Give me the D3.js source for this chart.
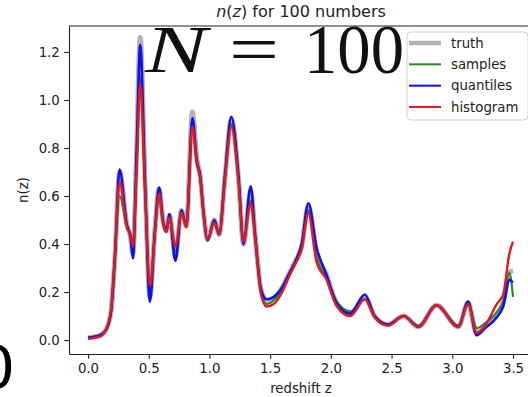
<!DOCTYPE html>
<html>
<head>
<meta charset="utf-8">
<script src="https://cdn.jsdelivr.net/npm/d3@7"></script>
<style>
  body { margin: 0; background: #fff; }
  svg { display: block; overflow: hidden; font-family: "DejaVu Sans", sans-serif; }
</style>
</head>
<body>
<svg id="chart" width="528" height="397"></svg>
<script>
// redshift grid
var zs = [0.00,0.10,0.15,0.19,0.22,0.26,0.32,0.35,0.37,0.40,0.43,0.47,0.51,0.55,0.585,0.62,0.645,0.67,0.72,0.77,
          0.81,0.86,0.895,0.925,0.95,0.985,1.04,1.08,1.13,1.18,1.24,1.28,1.34,1.375,1.425,1.47,1.53,1.60,1.66,1.71,
          1.76,1.815,1.88,1.965,2.05,2.16,2.28,2.36,2.47,2.60,2.72,2.87,3.05,3.13,3.20,3.27,3.37,3.42,3.47,3.50];

var truth = [0.010,0.020,0.045,0.120,0.330,0.700,0.480,0.430,0.360,0.790,1.260,0.660,0.180,0.450,0.630,0.490,0.455,0.520,0.350,0.540,
             0.475,0.950,0.760,0.680,0.540,0.420,0.500,0.440,0.690,0.920,0.670,0.400,0.620,0.445,0.210,0.165,0.175,0.220,0.280,0.330,
             0.390,0.560,0.370,0.270,0.150,0.110,0.180,0.100,0.065,0.100,0.055,0.145,0.055,0.155,0.030,0.055,0.110,0.160,0.280,0.290];

var samples = [0.010,0.020,0.040,0.120,0.330,0.600,0.470,0.440,0.400,0.720,1.100,0.630,0.210,0.440,0.600,0.480,0.470,0.500,0.370,0.530,
               0.470,0.900,0.740,0.670,0.530,0.420,0.490,0.440,0.680,0.900,0.660,0.410,0.580,0.430,0.200,0.150,0.165,0.210,0.275,0.325,
               0.385,0.540,0.350,0.260,0.160,0.120,0.170,0.100,0.065,0.100,0.060,0.145,0.060,0.150,0.050,0.070,0.118,0.160,0.280,0.180];

var quantiles = [0.010,0.020,0.045,0.120,0.330,0.710,0.480,0.430,0.340,0.780,1.230,0.650,0.160,0.450,0.635,0.490,0.450,0.525,0.330,0.540,
                 0.475,0.925,0.750,0.680,0.540,0.415,0.500,0.440,0.700,0.930,0.680,0.400,0.640,0.445,0.210,0.170,0.180,0.220,0.280,0.330,
                 0.400,0.570,0.390,0.270,0.150,0.110,0.190,0.100,0.065,0.100,0.055,0.145,0.055,0.160,0.020,0.050,0.097,0.140,0.250,0.240];

var histogram = [0.005,0.015,0.045,0.130,0.340,0.660,0.470,0.440,0.390,0.700,1.070,0.620,0.225,0.440,0.610,0.480,0.450,0.510,0.390,0.530,
                 0.470,0.890,0.740,0.670,0.530,0.420,0.490,0.440,0.680,0.890,0.660,0.410,0.570,0.430,0.190,0.140,0.150,0.200,0.270,0.320,
                 0.380,0.530,0.330,0.250,0.140,0.100,0.170,0.095,0.060,0.100,0.055,0.145,0.055,0.150,0.030,0.060,0.153,0.190,0.360,0.410];

var xTicks = [0.0,0.5,1.0,1.5,2.0,2.5,3.0,3.5];
var yTicks = [0.0,0.2,0.4,0.6,0.8,1.0,1.2];

var series = [
  {name: "truth",     values: truth,     color: "#999999", width: 5,   opacity: 0.75},
  {name: "samples",   values: samples,   color: "#2a8a2a", width: 2.2, opacity: 1},
  {name: "quantiles", values: quantiles, color: "#1010ee", width: 2.6, opacity: 1},
  {name: "histogram", values: histogram, color: "#e3191c", width: 2.4, opacity: 1}
];

var svg = d3.select("#chart"),
    padL = 69, padR = 540, padT = 26, padB = 354;

var x = d3.scaleLinear().domain([-0.1565, 3.5 + (padR - 513) / 121.43]).range([padL, padR]);
var y = d3.scaleLinear().domain([-0.058, 1.308]).range([padB, padT]);

// big stray labels behind the axes
svg.append("text").attr("x", 15).attr("y", 388).attr("text-anchor", "end")
  .style("font-size", "59px").style("fill", "#000").text("0");

var big = svg.append("g").style("font-family", "'Liberation Serif', serif").style("fill", "#111");
big.append("text").attr("x", 145).attr("y", 72).style("font-size", "68px").style("font-style", "italic")
  .attr("textLength", 62).attr("lengthAdjust", "spacingAndGlyphs").text("N");
big.append("text").attr("x", 229).attr("y", 72).style("font-size", "68px")
  .attr("textLength", 50).attr("lengthAdjust", "spacingAndGlyphs").text("=");
big.append("text").attr("x", 304).attr("y", 73).style("font-size", "70px")
  .attr("textLength", 100).attr("lengthAdjust", "spacingAndGlyphs").text("100");

var line = d3.line()
  .x(function(d, i) { return x(zs[i]); })
  .y(function(d) { return y(d); })
  .curve(d3.curveMonotoneX);

svg.append("g").selectAll("path").data(series).enter().append("path")
  .attr("d", function(s) { return line(s.values); })
  .attr("fill", "none")
  .attr("stroke", function(s) { return s.color; })
  .attr("stroke-width", function(s) { return s.width; })
  .attr("stroke-opacity", function(s) { return s.opacity; })
  .attr("stroke-linejoin", "round");

// axes
var xAxis = svg.append("g").attr("transform", "translate(0," + padB + ")")
  .call(d3.axisBottom(x).tickValues(xTicks).tickFormat(d3.format(".1f"))
    .tickSize(4.7).tickSizeOuter(0).tickPadding(4.5));
var yAxis = svg.append("g").attr("transform", "translate(" + padL + ",0)")
  .call(d3.axisLeft(y).tickValues(yTicks).tickFormat(d3.format(".1f"))
    .tickSize(4.7).tickSizeOuter(0).tickPadding(4.5));
[xAxis, yAxis].forEach(function(a) {
  a.selectAll("path, line").attr("stroke", "#222").attr("stroke-width", 1.1);
  a.selectAll("text").style("font-size", "13.3px").style("fill", "#222")
    .style("font-family", "'DejaVu Sans', sans-serif");
});
svg.append("line").attr("x1", padL).attr("x2", padR).attr("y1", padT).attr("y2", padT)
  .attr("stroke", "#222").attr("stroke-width", 1.1);

// labels
var title = svg.append("text").attr("x", 301).attr("y", 17).attr("text-anchor", "middle")
  .style("font-size", "16px").style("fill", "#222");
title.append("tspan").style("font-style", "italic").text("n");
title.append("tspan").text("(");
title.append("tspan").style("font-style", "italic").text("z");
title.append("tspan").text(") for 100 numbers");

svg.append("text").attr("x", 301).attr("y", 393).attr("text-anchor", "middle")
  .style("font-size", "13.3px").style("fill", "#222").text("redshift z");
svg.append("text").attr("transform", "translate(28,190) rotate(-90)").attr("text-anchor", "middle")
  .style("font-size", "13.3px").style("fill", "#222").text("n(z)");

// legend
var lg = svg.append("g");
lg.append("rect").attr("x", 407).attr("y", 32).attr("width", 121).attr("height", 88).attr("rx", 4)
  .attr("fill", "#fff").attr("fill-opacity", 0.8).attr("stroke", "#d0d0d0");
var rowY = d3.scalePoint().domain(series.map(function(s) { return s.name; })).range([43, 107]);
var item = lg.selectAll("g.item").data(series).enter().append("g").attr("class", "item")
  .attr("transform", function(s) { return "translate(0," + rowY(s.name) + ")"; });
item.append("line").attr("x1", 409).attr("x2", 441)
  .attr("stroke", function(s) { return s.color; })
  .attr("stroke-width", function(s) { return s.name === "truth" ? 4.5 : 2; })
  .attr("stroke-opacity", function(s) { return s.opacity; });
item.append("text").attr("x", 451).attr("dy", "0.35em")
  .style("font-size", "13.3px").style("fill", "#222").text(function(s) { return s.name; });
</script>
</body>
</html>
